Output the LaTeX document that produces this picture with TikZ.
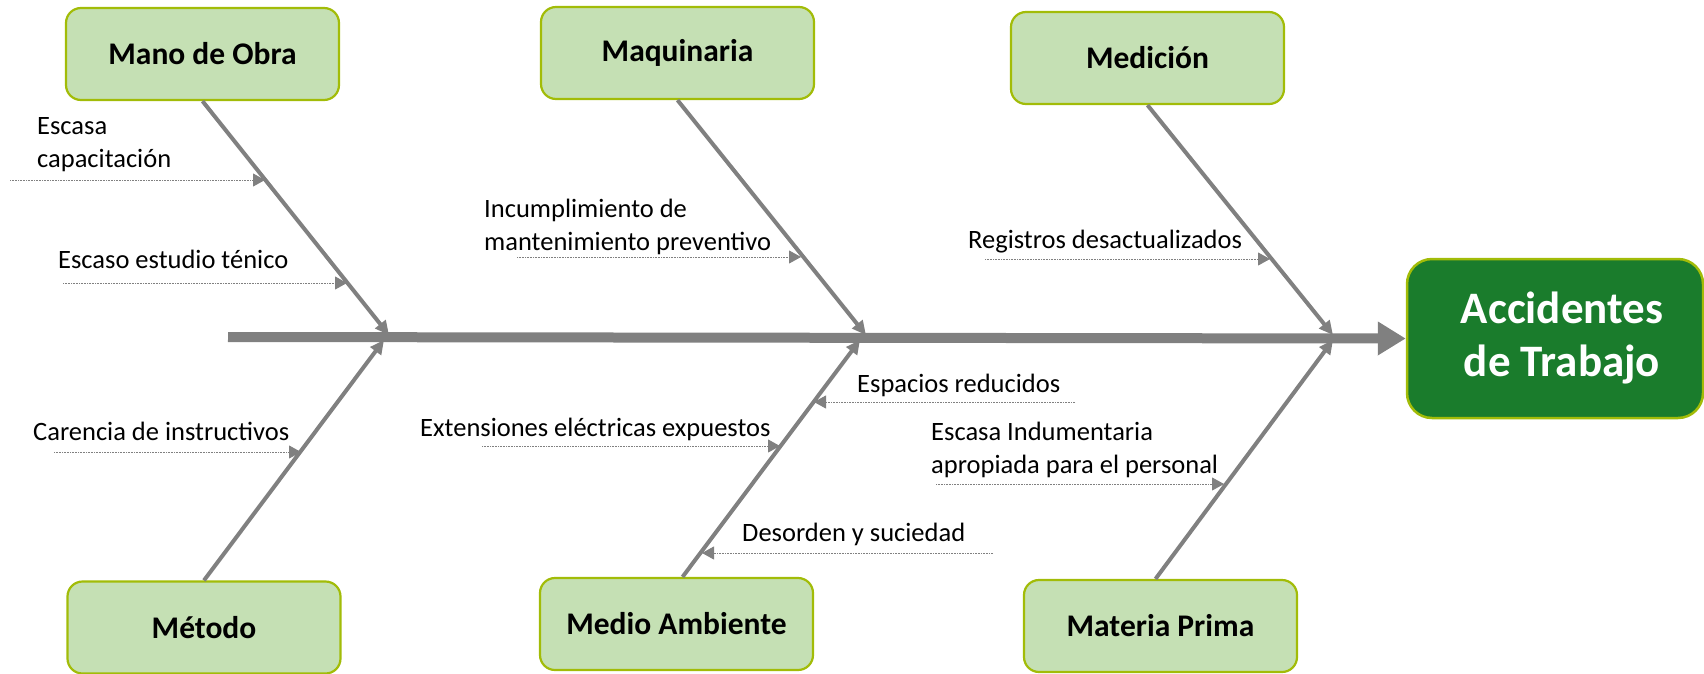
\documentclass[tikz,border=0pt]{standalone}
\usepackage{fontspec}
\setmainfont{Carlito}
\usetikzlibrary{arrows.meta}
\definecolor{boxfill}{RGB}{197,224,180}
\definecolor{boxline}{RGB}{162,188,8}
\definecolor{headfill}{RGB}{26,124,44}
\definecolor{bonegray}{RGB}{128,128,128}
\tikzset{% 
    cat/.style={draw=boxline,line width=2.2pt,fill=boxfill,rounded corners=15pt,
        minimum width=273pt,minimum height=92pt,inner sep=0pt,
        font=\fontsize{31.5}{36}\selectfont\bfseries},
    head/.style={draw=boxline,line width=2.5pt,fill=headfill,rounded corners=25pt,
        minimum width=296pt,minimum height=159pt,inner sep=0pt,align=center,text=white,
        font=\fontsize{45}{53}\selectfont\bfseries},
    bone/.style={draw=bonegray,line width=4pt,-{Triangle[length=14pt,width=13pt]}},
    spine/.style={draw=bonegray,line width=10pt,-{Triangle[length=28pt,width=32pt]}},
    sub/.style={draw=bonegray,line width=0.9pt,dash pattern=on 0.9pt off 0.7pt,
        -{Triangle[length=12pt,width=13pt]}},
    txt/.style={inner sep=0pt,anchor=base west,align=left,font=\fontsize{26.5}{33}\selectfont}
}
\begin{document}
\begin{tikzpicture}[x=1pt,y=-1pt]
            \useasboundingbox (0,0) rectangle (1704,673);
            \node[cat] (mo) at (202.5,54) {Mano de Obra};
            \node[cat] (maq) at (677.5,53) {Maquinaria};
            \node[cat] (med) at (1147.5,58) {Medición};
            \node[cat] (met) at (204,627.5) {Método};
            \node[cat] (amb) at (676.5,624) {Medio Ambiente};
            \node[cat] (mp) at (1160.5,626) {Materia Prima};
            \node[head] (acc) at (1555,338.5) {\hspace*{14pt}Accidentes\\\hspace*{14pt}de Trabajo};

            \coordinate (tail) at (228,337);
            \coordinate (j1) at (389,335);
            \coordinate (j2) at (866,335);
            \coordinate (j3) at (1333,335);
            \coordinate (j4) at (384,340);
            \coordinate (j5) at (860,340);
            \coordinate (j6) at (1333,340);

            \draw[spine] (tail) -- (acc.west);
            \draw[bone] (mo.south) -- (j1);
            \draw[bone] (maq.south) -- (j2);
            \draw[bone] (med.south) -- (j3);
            \draw[bone] (met.north) -- (j4);
            \draw[bone] ([xshift=6pt]amb.north) -- (j5);
            \draw[bone] ([xshift=-5pt]mp.north) -- (j6);

            % causas
            \node[txt] (t1) at (37,167) {Escasa\\capacitación};
            \node[txt] (t2) at (58,268) {Escaso estudio ténico};
            \node[txt] (t3) at (484,250) {Incumplimiento de\\mantenimiento preventivo};
            \node[txt] (t4) at (968,248) {Registros desactualizados};
            \node[txt] (t5) at (33,440) {Carencia de instructivos};
            \node[txt] (t6) at (420,436) {Extensiones eléctricas expuestos};
            \node[txt] (t7) at (857,392) {Espacios reducidos};
            \node[txt] (t8) at (931,473) {Escasa Indumentaria\\apropiada para el personal};
            \node[txt] (t9) at (742,541) {Desorden y suciedad};

            \coordinate (s1) at (10,180);   \coordinate (e1) at (265,180);
            \coordinate (s2) at (63,283);   \coordinate (e2) at (347,283);
            \coordinate (s3) at (517,257);  \coordinate (e3) at (801,257);
            \coordinate (s4) at (985,259);  \coordinate (e4) at (1270,259);
            \coordinate (s5) at (54,452);   \coordinate (e5) at (301,452);
            \coordinate (s6) at (482,446);  \coordinate (e6) at (780,446);
            \coordinate (s7) at (1075,402); \coordinate (e7) at (814,402);
            \coordinate (s8) at (936,484);  \coordinate (e8) at (1224,484);
            \coordinate (s9) at (993,553);  \coordinate (e9) at (702,553);
            \draw[sub] (s1) -- (e1);
            \draw[sub] (s2) -- (e2);
            \draw[sub] (s3) -- (e3);
            \draw[sub] (s4) -- (e4);
            \draw[sub] (s5) -- (e5);
            \draw[sub] (s6) -- (e6);
            \draw[sub] (s7) -- (e7);
            \draw[sub] (s8) -- (e8);
            \draw[sub] (s9) -- (e9);
        \end{tikzpicture}
\end{document}
